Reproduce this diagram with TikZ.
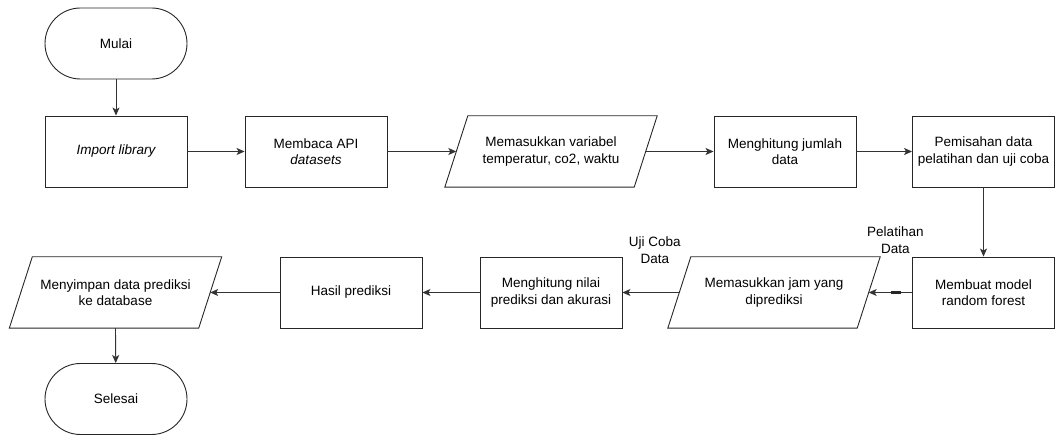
\documentclass[tikz,border=0pt]{standalone}
\usepackage{fontspec}
\setmainfont{Liberation Sans}
\usetikzlibrary{arrows.meta}
\begin{document}
\begin{tikzpicture}[x=1pt, y=-1pt,
  every node/.style={font=\fontsize{13.5}{16.5}\selectfont, align=center, text=black},
  proc/.style={draw=black!85, line width=0.9pt, minimum width=142pt, minimum height=71pt, inner sep=1pt},
  term/.style={proc, rounded corners=35.5pt},
  iobox/.style={minimum width=189pt, minimum height=71pt, inner sep=1pt},
  flow/.style={draw=black!80, line width=0.9pt, -{Stealth[length=8pt,width=7pt,inset=2pt]}},
  edgelabel/.style={font=\fontsize{13.5}{16.5}\selectfont, align=center}
]
\useasboundingbox (0,0) rectangle (1055,435);

% top row
\node[term] (mulai) at (116,43.5) {Mulai};
\node[proc] (import) at (116,151.5) {\itshape Import library};
\node[proc] (api) at (316,151.5) {Membaca API\\\itshape datasets};
\node[iobox] (var) at (551,151.5) {Memasukkan variabel\\temperatur, co2, waktu};
\node[proc] (jumlah) at (785,151.5) {Menghitung jumlah\\data};
\node[proc, inner sep=0pt] (pisah) at (983.5,151.5) {Pemisahan data\\pelatihan dan uji coba};

% bottom row
\node[proc] (model) at (983.5,292.5) {Membuat model\\random forest};
\node[iobox] (jam) at (774,292.5) {Memasukkan jam yang\\diprediksi};
\node[proc] (nilai) at (551,292.5) {Menghitung nilai\\prediksi dan akurasi};
\node[proc] (hasil) at (351,292.5) {Hasil prediksi};
\node[iobox] (simpan) at (115.5,292.5) {Menyimpan data prediksi\\ke database};
\node[term] (selesai) at (116,399) {Selesai};

% slanted outlines of the input/output boxes
\foreach \n in {var, jam, simpan} {
  \draw[black!85, line width=0.9pt]
    ([xshift=-11.5pt]\n.south west) -- ([xshift=-11.5pt]\n.south east)
    -- ([xshift=11.5pt]\n.north east) -- ([xshift=11.5pt]\n.north west) -- cycle;
}

% connectors
\draw[flow] (mulai) -- (import);
\draw[flow] (import) -- (api);
\draw[flow] (api) -- (var.west);
\draw[flow] (var.east) -- (jumlah);
\draw[flow] (jumlah) -- (pisah);
\draw[flow] (pisah) -- (model);
\draw[flow] (model) -- (jam.east)
  node[midway, edgelabel, xshift=5pt, yshift=52.5pt] (lblA) {Pelatihan\\Data};
\draw[black!85, line width=2.2pt] ([xshift=-21pt]model.west) -- ([xshift=-11pt]model.west);
\draw[flow] (jam.west) -- (nilai)
  node[midway, edgelabel, xshift=4pt, yshift=42.5pt] (lblB) {Uji Coba\\Data};
\draw[flow] (nilai) -- (hasil);
\draw[flow] (hasil) -- (simpan.east);
\draw[flow] (simpan.south) -- (selesai);
\end{tikzpicture}
\end{document}
